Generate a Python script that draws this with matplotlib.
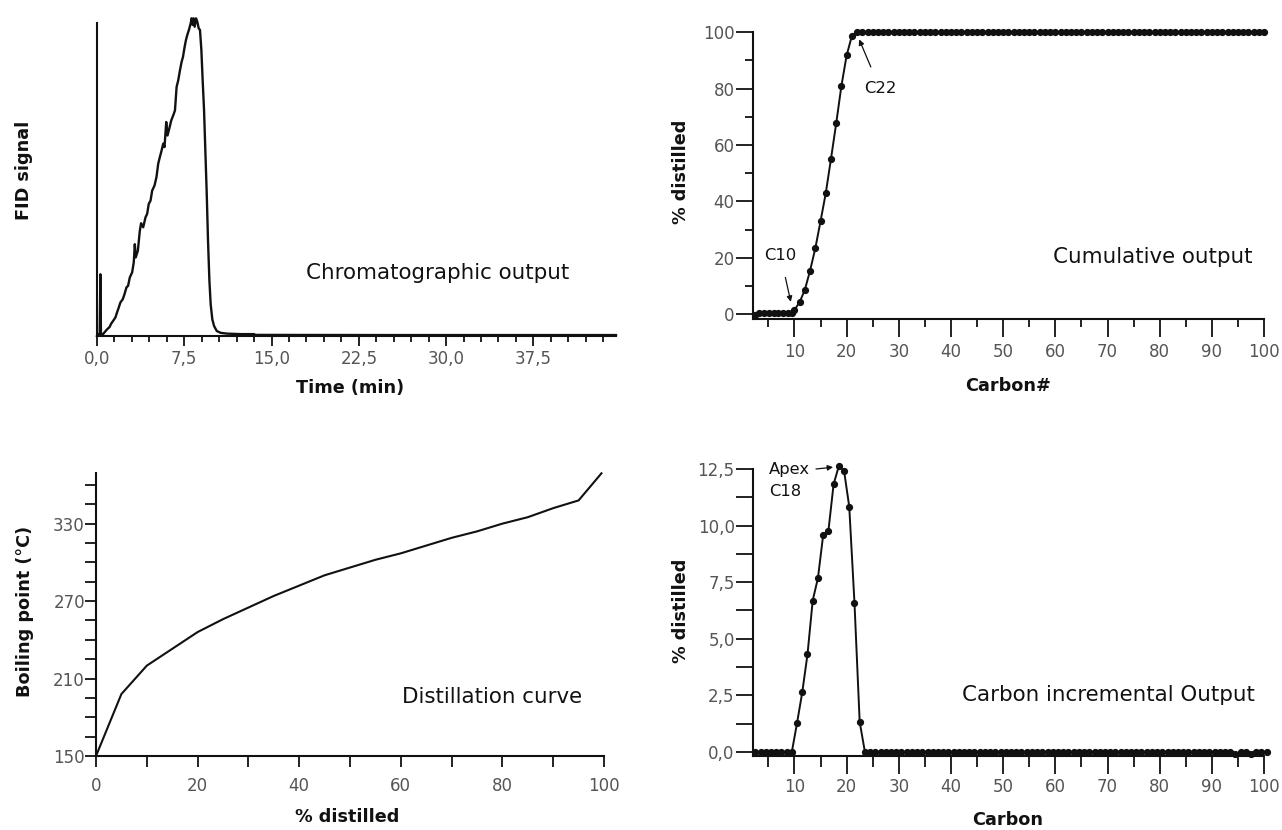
import matplotlib
matplotlib.use('Agg')
import matplotlib.pyplot as plt
from matplotlib.ticker import FixedLocator, FuncFormatter

# ---------------- data ----------------
# Chromatogram (time in min, FID signal in % of full scale)
chrom_time = [0.0, 0.09, 0.23, 0.29, 0.34, 0.43, 0.63, 0.86, 1.09, 1.21, 1.38, 1.58, 1.72,
              1.87, 2.01, 2.21, 2.36, 2.53, 2.67, 2.82, 3.02, 3.16, 3.25, 3.33, 3.51, 3.68,
              3.79, 3.97, 4.17, 4.31, 4.45, 4.60, 4.74, 4.94, 5.11, 5.26, 5.40, 5.55, 5.69,
              5.80, 5.95, 6.06, 6.21, 6.38, 6.55, 6.70, 6.84, 6.98, 7.13, 7.27, 7.39, 7.53,
              7.64, 7.76, 7.90, 8.05, 8.13, 8.22, 8.30, 8.39, 8.51, 8.62, 8.74, 8.85, 8.97,
              9.08, 9.20, 9.31, 9.43, 9.54, 9.66, 9.77, 9.91, 10.06, 10.29, 10.63, 11.2,
              12.4, 13.5, 13.6, 25.0, 44.6]
chrom_signal = [0.0, 0.5, 0.5, 19.7, 0.5, 0.2, 1.1, 2.1, 2.9, 3.9, 4.8, 5.9, 7.5,
                9.1, 10.7, 11.7, 13.3, 15.5, 16.0, 18.7, 20.3, 23.5, 29.3, 25.1, 27.2, 33.6,
                36.0, 34.7, 37.9, 39.0, 42.2, 43.2, 46.4, 48.0, 50.7, 55.0, 57.1, 59.2, 61.4,
                60.3, 68.3, 64.0, 66.2, 68.8, 70.4, 72.0, 79.5, 81.6, 84.8, 87.5, 89.1, 92.3,
                94.4, 96.1, 97.7, 99.8, 101.4, 99.3, 101.4, 98.7, 101.4, 100.3, 98.2, 97.7, 91.2,
                81.6, 72.0, 59.2, 45.4, 30.4, 17.6, 10.1, 5.3, 3.2, 1.6, 1.0, 0.75,
                0.6, 0.6, 0.35, 0.3, 0.3]
chrom_ticks = [0.0, 7.5, 15.0, 22.5, 30.0, 37.5]

# Cumulative output (carbon number vs % distilled)
cum_carbon = [2.4, 3.3, 4.2, 5.1, 6.0, 6.9, 7.8, 8.7, 9.5,
              10, 11, 12, 13, 14, 15, 16, 17, 18, 19, 20, 21, 22, 23, 24, 25, 26, 27, 28, 29,
              30, 31, 32, 33, 34, 35, 36, 37, 38, 39, 40, 41, 42, 43, 44, 45, 46, 47, 48, 49,
              50, 51, 52, 53, 54, 55, 56, 57, 58, 59, 60, 61, 62, 63, 64, 65, 66, 67, 68, 69,
              70, 71, 72, 73, 74, 75, 76, 77, 78, 79, 80, 81, 82, 83, 84, 85, 86, 87, 88, 89,
              90, 91, 92, 93, 94, 95, 96, 97, 98, 99, 100]
cum_pct = [-0.3, 0.3, 0.3, 0.3, 0.3, 0.3, 0.3, 0.3, 0.3,
           1.5, 4.3, 8.7, 15.5, 23.4, 33.0, 42.9, 55.1, 67.7, 81.0, 91.8, 98.7, 100, 100, 100,
           100, 100, 100, 100, 100, 100, 100, 100, 100, 100, 100, 100, 100, 100, 100, 100,
           100, 100, 100, 100, 100, 100, 100, 100, 100, 100, 100, 100, 100, 100, 100, 100,
           100, 100, 100, 100, 100, 100, 100, 100, 100, 100, 100, 100, 100, 100, 100, 100,
           100, 100, 100, 100, 100, 100, 100, 100, 100, 100, 100, 100, 100, 100, 100, 100,
           100, 100, 100, 100, 100, 100, 100, 100, 100, 100, 100, 100]

# Distillation curve (% distilled vs boiling point, degC)
dist_pct = [0, 5, 10, 15, 20, 25, 30, 35, 40, 45, 50, 55, 60, 65, 70, 75, 80, 85, 90, 95, 99.5]
dist_bp = [150, 198, 220, 233, 246, 256, 265, 274, 282, 290, 296, 302, 307, 313, 319, 324,
           330, 335, 342, 348, 369]

# Carbon incremental output
inc_carbon = [2.5, 3.5, 4.5, 5.5, 6.5, 7.5, 8.5, 9.5, 10.5, 11.5, 12.5, 13.5, 14.5, 15.5,
              16.5, 17.5, 18.5, 19.5, 20.5, 21.5, 22.5, 23.5, 24.5, 25.5, 26.5, 27.5, 28.5,
              29.5, 30.5, 31.5, 32.5, 33.5, 34.5, 35.5, 36.5, 37.5, 38.5, 39.5, 40.5, 41.5,
              42.5, 43.5, 44.5, 45.5, 46.5, 47.5, 48.5, 49.5, 50.5, 51.5, 52.5, 53.5, 54.5,
              55.5, 56.5, 57.5, 58.5, 59.5, 60.5, 61.5, 62.5, 63.5, 64.5, 65.5, 66.5, 67.5,
              68.5, 69.5, 70.5, 71.5, 72.5, 73.5, 74.5, 75.5, 76.5, 77.5, 78.5, 79.5, 80.5,
              81.5, 82.5, 83.5, 84.5, 85.5, 86.5, 87.5, 88.5, 89.5, 90.5, 91.5, 92.5, 93.5,
              94.5, 95.5, 96.5, 97.5, 98.5, 99.5, 100.5]
inc_pct = [0, 0, 0, 0, 0, 0, 0, 0, 1.28, 2.64, 4.31, 6.69, 7.68, 9.57,
           9.75, 11.82, 12.63, 12.43, 10.84, 6.60, 1.33, 0, 0, 0, 0, 0, 0,
           0, 0, 0, 0, 0, 0, 0, 0, 0, 0, 0, 0, 0,
           0, 0, 0, 0, 0, 0, 0, 0, 0, 0, 0, 0, 0,
           0, 0, 0, 0, 0, 0, 0, 0, 0, 0, 0, 0, 0,
           0, 0, 0, 0, 0, 0, 0, 0, 0, 0, 0, 0, 0,
           0, 0, 0, 0, 0, 0, 0, 0, 0, 0, 0, 0, 0,
           -0.08, 0, 0, -0.08, 0, 0, 0]

# ---------------- style ----------------
plt.rcParams['font.family'] = ['DejaVu Sans']
INK = '#111111'
TICKC = '#555555'
TICKSIZE = 12

W, H = 1282, 830
fig = plt.figure(figsize=(W / 100, H / 100), dpi=100)


def rect(x0, x1, ytop, ybot):
    return [x0 / W, 1 - ybot / H, (x1 - x0) / W, (ybot - ytop) / H]


def px(x, y):
    return x / W, 1 - y / H


def style(ax):
    for s in ('top', 'right'):
        ax.spines[s].set_visible(False)
    for s in ('left', 'bottom'):
        ax.spines[s].set_linewidth(1.5)
        ax.spines[s].set_color(INK)
    ax.tick_params(which='both', colors=INK, labelcolor=TICKC, labelsize=TICKSIZE, width=1.3)


comma1 = FuncFormatter(lambda v, p: f"{v:.1f}".replace('.', ','))
LABEL_KW = dict(fontsize=12.7, fontweight='bold', color=INK)
NOTE_KW = dict(fontsize=15.4, color=INK)
SMALL_KW = dict(fontsize=11.8, color=INK)
ARROW = dict(arrowstyle='-|>', color=INK, lw=0.9, mutation_scale=8)

# ---- top-left: chromatogram ----
ax1 = fig.add_axes(rect(97, 616, 22.7, 336))
ax1.plot(chrom_time, chrom_signal, color=INK, lw=1.7, clip_on=False)
ax1.set_xlim(0, 44.6)
ax1.set_ylim(0, 100)
style(ax1)
ax1.xaxis.set_major_locator(FixedLocator(chrom_ticks))
ax1.xaxis.set_minor_locator(FixedLocator([i * 1.5 for i in range(0, 30)]))
ax1.xaxis.set_major_formatter(comma1)
ax1.tick_params(axis='x', which='major', length=7, pad=3)
ax1.tick_params(axis='x', which='minor', length=4)
ax1.set_yticks([])
fig.text(*px(350, 388), 'Time (min)', ha='center', va='center', **LABEL_KW)
fig.text(*px(24, 170), 'FID signal', ha='center', va='center', rotation=90, **LABEL_KW)
fig.text(*px(306, 273), 'Chromatographic output', ha='left', va='center', **NOTE_KW)

# ---- top-right: cumulative ----
ax2 = fig.add_axes(rect(752.7, 1264.1, 32.3, 319.3))
ax2.plot(cum_carbon, cum_pct, color=INK, lw=1.4, marker='o', ms=4.2, clip_on=False)
ax2.set_xlim(2.0, 100)
ax2.set_ylim(-1.8, 100)
style(ax2)
ax2.xaxis.set_major_locator(FixedLocator(list(range(10, 101, 10))))
ax2.xaxis.set_minor_locator(FixedLocator(list(range(5, 100, 10))))
ax2.yaxis.set_major_locator(FixedLocator(list(range(0, 101, 20))))
ax2.yaxis.set_minor_locator(FixedLocator(list(range(10, 100, 20))))
ax2.tick_params(axis='x', which='major', length=13, pad=4)
ax2.tick_params(axis='x', which='minor', length=6)
ax2.tick_params(axis='y', which='major', length=12, pad=1)
ax2.tick_params(axis='y', which='minor', length=6)
ax2.annotate('C10', xy=(9.3, 4.4), xytext=(7.3, 21), ha='center', va='center',
             arrowprops=dict(ARROW, shrinkA=9, shrinkB=0), annotation_clip=False, **SMALL_KW)
ax2.annotate('C22', xy=(22.4, 97.5), xytext=(26.4, 80), ha='center', va='center',
             arrowprops=dict(ARROW, shrinkA=9, shrinkB=0), annotation_clip=False, **SMALL_KW)
fig.text(*px(1008, 386), 'Carbon#', ha='center', va='center', **LABEL_KW)
fig.text(*px(681, 172), '% distilled', ha='center', va='center', rotation=90, **LABEL_KW)
fig.text(*px(1053, 257), 'Cumulative output', ha='left', va='center', **NOTE_KW)

# ---- bottom-left: distillation ----
ax3 = fig.add_axes(rect(96, 604, 473.3, 756))
ax3.plot(dist_pct, dist_bp, color=INK, lw=1.5, clip_on=False)
ax3.set_xlim(0, 100)
ax3.set_ylim(150, 369)
style(ax3)
ax3.xaxis.set_major_locator(FixedLocator(list(range(0, 101, 20))))
ax3.xaxis.set_minor_locator(FixedLocator(list(range(10, 100, 20))))
ax3.yaxis.set_major_locator(FixedLocator([150, 210, 270, 330]))
ax3.yaxis.set_minor_locator(FixedLocator([165, 180, 195, 225, 240, 255, 285, 300, 315, 345, 360]))
ax3.tick_params(axis='both', which='both', length=8)
ax3.tick_params(axis='x', which='major', pad=7)
ax3.tick_params(axis='y', which='major', pad=0)
fig.text(*px(347, 817), '% distilled', ha='center', va='center', **LABEL_KW)
fig.text(*px(25, 611), 'Boiling point (°C)', ha='center', va='center', rotation=90, **LABEL_KW)
fig.text(*px(402, 697), 'Distillation curve', ha='left', va='center', **NOTE_KW)

# ---- bottom-right: incremental ----
ax4 = fig.add_axes(rect(752.7, 1264.1, 469, 756))
ax4.plot(inc_carbon, inc_pct, color=INK, lw=1.4, marker='o', ms=4.2, clip_on=False)
ax4.set_xlim(2.0, 100)
ax4.set_ylim(-0.18, 12.5)
style(ax4)
ax4.xaxis.set_major_locator(FixedLocator(list(range(10, 101, 10))))
ax4.xaxis.set_minor_locator(FixedLocator(list(range(5, 100, 10))))
ax4.yaxis.set_major_locator(FixedLocator([0, 2.5, 5.0, 7.5, 10.0, 12.5]))
ax4.yaxis.set_minor_locator(FixedLocator([1.25, 3.75, 6.25, 8.75, 11.25]))
ax4.yaxis.set_major_formatter(comma1)
ax4.tick_params(axis='x', which='major', length=13, pad=3)
ax4.tick_params(axis='x', which='minor', length=8)
ax4.tick_params(axis='y', which='both', length=12, pad=1)
fig.text(*px(769, 469), 'Apex', ha='left', va='center', **SMALL_KW)
fig.text(*px(769, 491), 'C18', ha='left', va='center', **SMALL_KW)
ax4.annotate('', xy=(18.2, 12.6), xycoords='data',
             xytext=px(816, 469), textcoords='figure fraction',
             arrowprops=dict(ARROW, shrinkA=0, shrinkB=3), annotation_clip=False)
fig.text(*px(1008, 820), 'Carbon', ha='center', va='center', **LABEL_KW)
fig.text(*px(681, 611), '% distilled', ha='center', va='center', rotation=90, **LABEL_KW)
fig.text(*px(962, 695), 'Carbon incremental Output', ha='left', va='center', **NOTE_KW)

fig.savefig('out.png', dpi=100)
